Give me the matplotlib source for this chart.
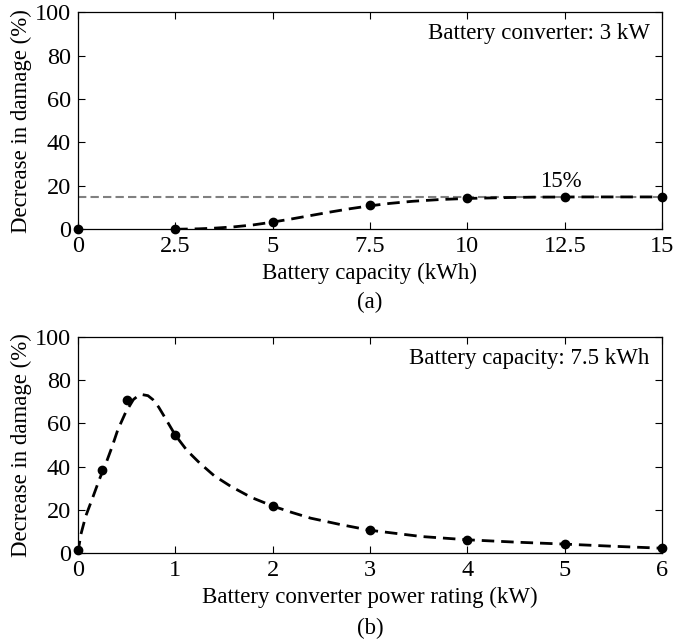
import matplotlib
matplotlib.use('Agg')
import matplotlib.pyplot as plt

plt.rcParams['font.family'] = ['Liberation Serif', 'DejaVu Serif']
plt.rcParams['font.size'] = 16.5

# (a) battery capacity sweep, converter 3 kW
cap_kwh = [0, 2.5, 5, 7.5, 10, 12.5, 15]
cap_dec = [0, 0.3, 3.4, 11.1, 14.2, 14.9, 14.9]
# dashed fit
cap_fit_x = [2.5, 3.1, 3.5, 4.0, 4.5, 5.0, 5.5, 6.0, 6.5, 7.0, 7.5, 8.0, 8.6, 9.3, 10.0, 11.0, 11.7, 13.0, 15.0]
cap_fit_y = [0.0, 0.2, 0.5, 1.1, 2.0, 3.3, 4.8, 6.4, 8.0, 9.5, 10.8, 11.9, 12.9, 13.7, 14.2, 14.6, 14.8, 14.9, 14.9]
target = 15

# (b) converter rating sweep, capacity 7.5 kWh
pw_kw = [0, 0.25, 0.5, 1, 2, 3, 4, 5, 6]
pw_dec = [1.5, 38.6, 71.0, 54.6, 21.8, 10.6, 6.2, 4.2, 2.3]
pw_fit_x = [0.0, 0.03, 0.08, 0.155, 0.22, 0.29, 0.35, 0.41, 0.49, 0.57, 0.62, 0.66, 0.72, 0.77, 0.83, 0.89, 1.0,
            1.12, 1.25, 1.4, 1.57, 1.78, 2.0, 2.2, 2.39, 2.7, 3.0, 3.53, 4.0, 4.5, 5.0, 5.5, 6.0]
pw_fit_y = [0.0, 8.5, 17.0, 26.0, 34.0, 41.7, 49.0, 57.0, 65.0, 71.0, 72.8, 73.3, 72.8, 71.0, 67.5, 63.0, 54.6,
            47.5, 41.7, 35.8, 30.9, 25.8, 21.8, 18.8, 16.2, 13.2, 10.6, 7.7, 6.2, 5.1, 4.2, 3.2, 2.3]

fig = plt.figure(figsize=(6.89, 6.44), dpi=100)
ax1 = fig.add_axes([0.113, 0.644, 0.848, 0.337])
ax2 = fig.add_axes([0.113, 0.141, 0.848, 0.336])

dash = (0, (4.5, 2.5))

ax1.axhline(target, color='#808080', lw=1.5, ls=(0, (4, 2)), zorder=1)
ax1.plot(cap_fit_x, cap_fit_y, color='black', lw=2, ls=dash, zorder=2)
ax1.plot(cap_kwh, cap_dec, 'o', color='black', ms=6, clip_on=False, zorder=3)
ax1.text(12.4, 22, '15%', ha='center', va='center')
ax1.text(14.7, 90, 'Battery converter: 3 kW', ha='right', va='center')
ax1.set_xlim(0, 15)
ax1.set_xticks(cap_kwh)
ax1.set_xticklabels(['0', '2.5', '5', '7.5', '10', '12.5', '15'])
ax1.set_xlabel('Battery capacity (kWh)', labelpad=4)
ax1.text(0.5, -0.337, '(a)', transform=ax1.transAxes, ha='center', va='center')

ax2.plot(pw_fit_x, pw_fit_y, color='black', lw=2, ls=dash, zorder=2)
ax2.plot(pw_kw, pw_dec, 'o', color='black', ms=6, clip_on=False, zorder=3)
ax2.text(5.87, 90, 'Battery capacity: 7.5 kWh', ha='right', va='center')
ax2.set_xlim(0, 6)
ax2.set_xticks(range(7))
ax2.set_xlabel('Battery converter power rating (kW)', labelpad=4)
ax2.text(0.5, -0.35, '(b)', transform=ax2.transAxes, ha='center', va='center')

for ax in (ax1, ax2):
    ax.set_ylim(0, 100)
    ax.set_yticks([0, 20, 40, 60, 80, 100])
    ax.set_ylabel('Decrease in damage (%)', labelpad=2)
    ax.tick_params(direction='in', top=True, right=True, length=5, width=0.8, pad=5, labelsize=17.5)
    for s in ax.spines.values():
        s.set_linewidth(0.9)

fig.savefig('out.png', dpi=100)
